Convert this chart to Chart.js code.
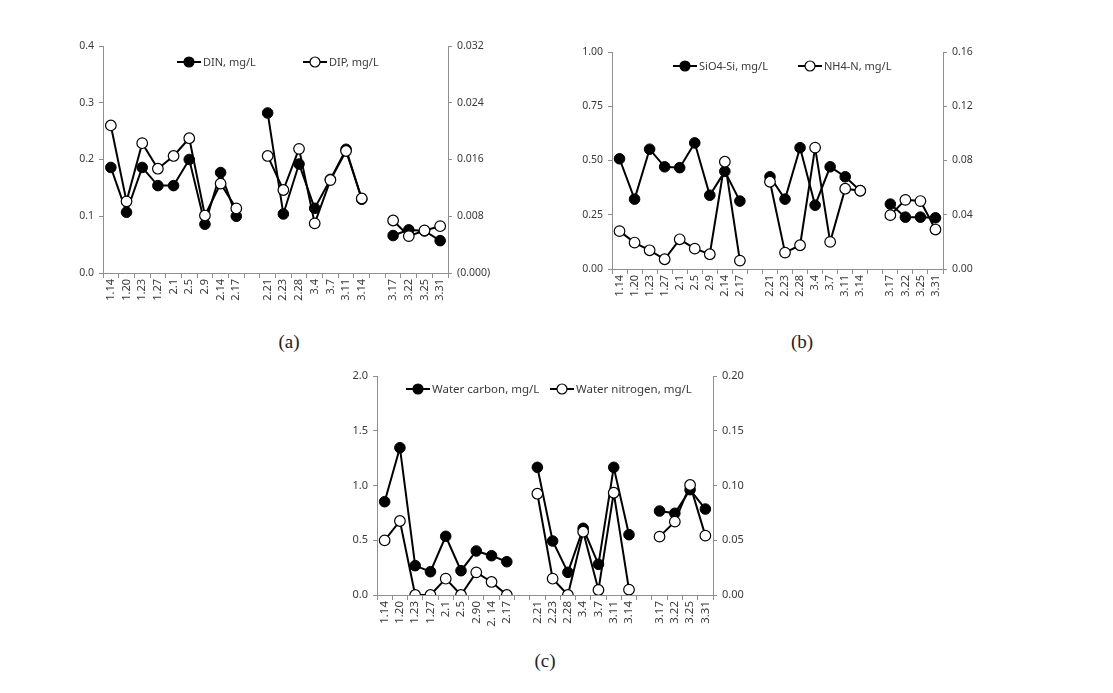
<!DOCTYPE html>
<html><head><meta charset="utf-8">
<script src="https://cdn.jsdelivr.net/npm/chart.js@4"></script>
<style>
body{margin:0;background:#fff;width:1113px;height:693px;overflow:hidden;position:relative}
canvas{position:absolute}
.cap{position:absolute;font-family:'Liberation Serif','DejaVu Serif',serif;font-size:19px;color:#222;transform:translate(-50%,-50%);white-space:nowrap}
</style></head><body>
<canvas id="ca"></canvas>
<canvas id="cb"></canvas>
<canvas id="cc"></canvas>
<div class="cap" style="left:289px;top:342px">(a)</div>
<div class="cap" style="left:802px;top:342px">(b)</div>
<div class="cap" style="left:545px;top:661px">(c)</div>
<script>
// ---------- data ----------
const datesAB = ['1.14','1.20','1.23','1.27','2.1','2.5','2.9','2.14','2.17','',
                 '2.21','2.23','2.28','3.4','3.7','3.11','3.14','',
                 '3.17','3.22','3.25','3.31'];
const datesC  = ['1.14','1.20','1.23','1.27','2.1','2.5','2.90','2. 14','2.17','',
                 '2.21','2.23','2.28','3.4','3.7','3.11','3.14','',
                 '3.17','3.22','3.25','3.31'];

const din = [0.186,0.107,0.186,0.154,0.154,0.200,0.086,0.177,0.100,null,
             0.282,0.104,0.192,0.114,0.165,0.218,0.130,null,
             0.066,0.076,0.074,0.057];
const dip = [0.0208,0.0101,0.0183,0.0147,0.0165,0.0190,0.0081,0.0126,0.0091,null,
             0.0165,0.0117,0.0175,0.0070,0.0131,0.0172,0.0105,null,
             0.0074,0.0052,0.0060,0.0066];

const sio4 = [0.508,0.322,0.552,0.471,0.467,0.581,0.340,0.450,0.313,null,
              0.425,0.322,0.559,0.294,0.471,0.425,0.361,null,
              0.299,0.239,0.239,0.236];
const nh4  = [0.0279,0.0195,0.0138,0.0072,0.0219,0.0150,0.0109,0.0791,0.0062,null,
              0.0643,0.0121,0.0175,0.0895,0.0200,0.0592,0.0577,null,
              0.0397,0.0510,0.0501,0.0291];

const wCarbon   = [0.852,1.345,0.268,0.213,0.536,0.222,0.402,0.359,0.304,null,
                   1.166,0.493,0.207,0.609,0.280,1.166,0.551,null,
                   0.767,0.746,0.962,0.785];
const wNitrogen = [0.0499,0.0676,0.0,0.0,0.0149,0.0,0.0207,0.0119,0.0,null,
                   0.0925,0.0149,0.0,0.0578,0.0046,0.0934,0.0049,null,
                   0.0533,0.0670,0.1005,0.0542];

const ticksDIN = ['0.0','0.1','0.2','0.3','0.4'];
const ticksDIP = ['(0.000)','0.008','0.016','0.024','0.032'];
const ticksSi  = ['0.00','0.25','0.50','0.75','1.00'];
const ticksNH4 = ['0.00','0.04','0.08','0.12','0.16'];
const ticksWC  = ['0.0','0.5','1.0','1.5','2.0'];
const ticksWN  = ['0.00','0.05','0.10','0.15','0.20'];

const namesA = ['DIN, mg/L','DIP, mg/L'];
const namesB = ['SiO4-Si, mg/L','NH4-N, mg/L'];
const namesC = ['Water carbon, mg/L','Water nitrogen, mg/L'];

// ---------- drawing ----------
const FONT = "'Noto Sans', 'DejaVu Sans', sans-serif";
const TXT = '#3a3a3a';
const AX = '#8f8f8f';

const inlineLegend = {
  id: 'inlineLegend',
  afterDraw(chart, args, opts) {
    const ctx = chart.ctx;
    ctx.save();
    opts.items.forEach((it, i) => {
      const ds = chart.data.datasets[i];
      const x = it.x - opts.ox, y = it.y - opts.oy;
      ctx.strokeStyle = '#000'; ctx.lineWidth = 2;
      ctx.beginPath(); ctx.moveTo(x, y); ctx.lineTo(x + 24, y); ctx.stroke();
      ctx.beginPath(); ctx.arc(x + 12, y, 5, 0, Math.PI * 2);
      ctx.fillStyle = ds.pointBackgroundColor; ctx.fill();
      ctx.lineWidth = 1.2; ctx.stroke();
      ctx.fillStyle = TXT; ctx.font = opts.size + 'px ' + FONT;
      ctx.textBaseline = 'middle'; ctx.textAlign = 'left';
      ctx.fillText(ds.label, x + 26, y + 0.5);
    });
    ctx.restore();
  }
};

function makeChart(id, g, labels, s1, s2, tL, tR, names, legendItems, fs) {
  const L = 50, R = 62, T = 12, B = 52;
  const cv = document.getElementById(id);
  const w = (g.right - g.left) + L + R, h = (g.bottom - g.top) + T + B;
  cv.width = w; cv.height = h;
  const ox = g.left - L, oy = g.top - T;
  cv.style.left = ox + 'px'; cv.style.top = oy + 'px';
  const yCommon = (labs, pos, wdt) => ({
    position: pos, min: 0, max: g[pos === 'left' ? 'maxL' : 'maxR'],
    border: { display: true, color: AX, width: 1 },
    grid: { drawOnChartArea: false, drawTicks: true, tickLength: 4, color: AX },
    ticks: { count: 5, padding: 5, color: TXT, font: { family: FONT, size: fs },
             callback: (v, i) => labs[i] },
    afterFit: s => { s.width = wdt; }
  });
  return new Chart(cv, {
    type: 'line',
    data: {
      labels: labels,
      datasets: [
        { label: names[0], data: s1, yAxisID: 'y', order: 1,
          borderColor: '#000', borderWidth: 2, pointRadius: 5.3, pointBorderWidth: 1,
          pointBackgroundColor: '#000', pointBorderColor: '#000', spanGaps: false, tension: 0 },
        { label: names[1], data: s2, yAxisID: 'y2', order: 0,
          borderColor: '#000', borderWidth: 2, pointRadius: 5.3, pointBorderWidth: 1.2,
          pointBackgroundColor: '#fff', pointBorderColor: '#000', spanGaps: false, tension: 0 }
      ]
    },
    options: {
      responsive: false, animation: false, devicePixelRatio: 1,
      layout: { padding: { top: T, left: 0, right: 0, bottom: 0 } },
      plugins: { legend: { display: false }, tooltip: { enabled: false },
                 inlineLegend: { items: legendItems, ox: ox, oy: oy, size: fs + 0.5 } },
      scales: {
        x: {
          offset: true,
          border: { display: true, color: AX, width: 1 },
          grid: { offset: true, drawOnChartArea: false, drawTicks: true, tickLength: 5, color: AX },
          ticks: { autoSkip: false, minRotation: 90, maxRotation: 90, padding: 1,
                   color: TXT, font: { family: FONT, size: fs + 0.5 } },
          afterFit: s => { s.height = B; }
        },
        y: yCommon(tL, 'left', L),
        y2: yCommon(tR, 'right', R)
      }
    },
    plugins: [inlineLegend]
  });
}

makeChart('ca', { left: 103, right: 448, top: 46, bottom: 273, maxL: 0.4, maxR: 0.032 },
  datesAB, din, dip, ticksDIN, ticksDIP, namesA,
  [{ x: 177, y: 62 }, { x: 303, y: 62 }], 10.5);
makeChart('cb', { left: 612, right: 943, top: 52, bottom: 269, maxL: 1.0, maxR: 0.16 },
  datesAB, sio4, nh4, ticksSi, ticksNH4, namesB,
  [{ x: 673, y: 66 }, { x: 798, y: 66 }], 10.5);
makeChart('cc', { left: 377, right: 713, top: 376, bottom: 595, maxL: 2.0, maxR: 0.20 },
  datesC, wCarbon, wNitrogen, ticksWC, ticksWN, namesC,
  [{ x: 406, y: 389 }, { x: 550, y: 389 }], 11);
</script>
</body></html>
